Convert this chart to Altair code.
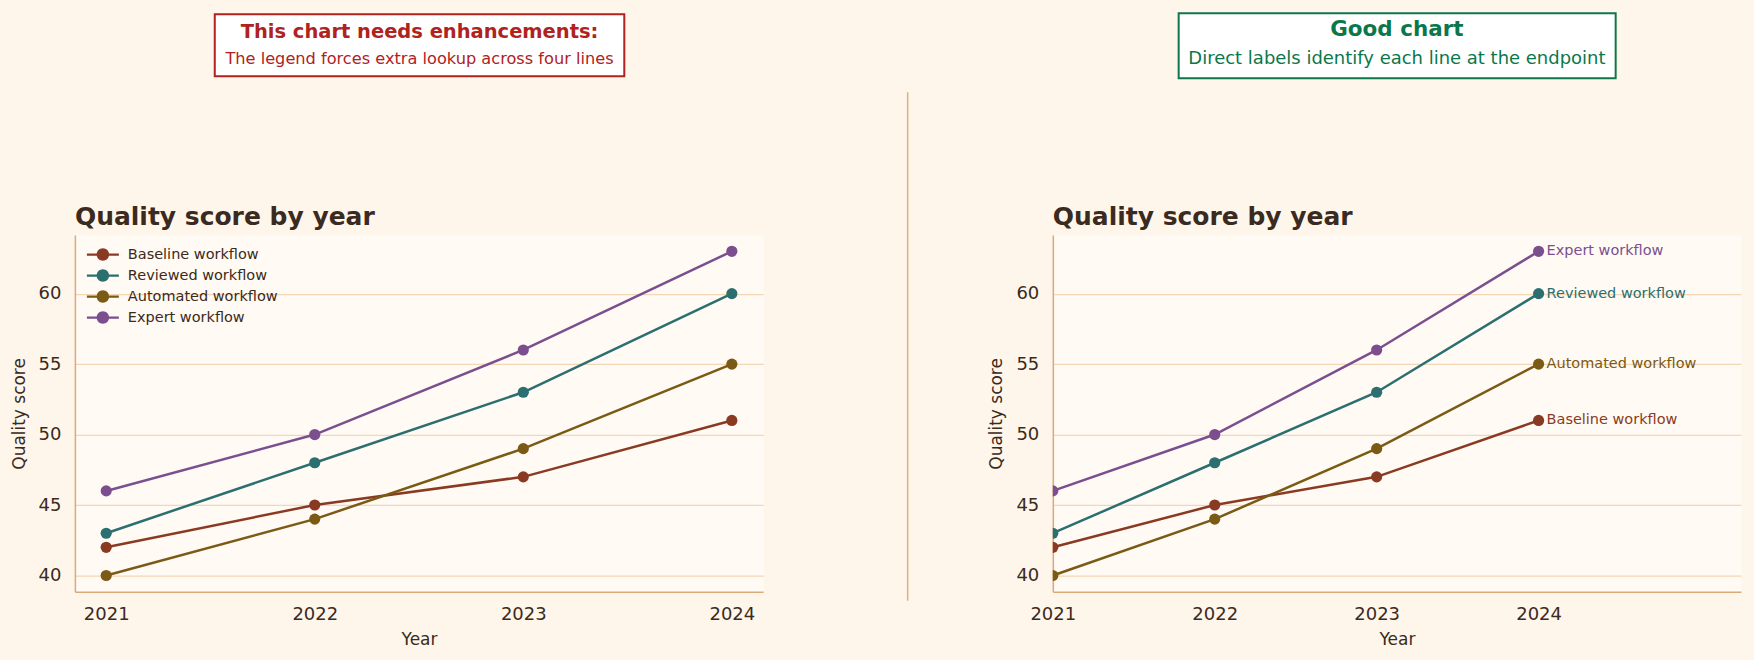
import altair as alt
import pandas as pd

# ---- data ---------------------------------------------------------------
years = [2021, 2022, 2023, 2024]
series_names = ["Baseline workflow", "Reviewed workflow", "Automated workflow", "Expert workflow"]
baseline = [42, 45, 47, 51]
reviewed = [43, 48, 53, 60]
automated = [40, 44, 49, 55]
expert = [46, 50, 56, 63]
series_colors = ["#8a3a22", "#2b6f70", "#7a5a14", "#7b4f8f"]
y_ticks = [40, 45, 50, 55, 60]

rows = []
for name, vals in zip(series_names, [baseline, reviewed, automated, expert]):
    for yr, v in zip(years, vals):
        rows.append({"year": yr, "score": v, "workflow": name})
df = pd.DataFrame(rows)

# ---- styling ------------------------------------------------------------
PLOT_W, PLOT_H = 689, 357
INK = "#3b2a20"
PAGE_BG = "#fff6eb"
BAD = "#b0221e"
GOOD = "#0b774a"
FONT = "DejaVu Sans"

# legend symbol: a short line with a dot in the middle
LEGEND_SYMBOL = (
    "M-2,-0.14L2,-0.14L2,0.14L-2,0.14Z "
    "M0,-0.78A0.78,0.78 0 1,1 0,0.78A0.78,0.78 0 1,1 0,-0.78Z"
)

one_row = alt.Data(values=[{}])


def header_box(x0, x1, y0, y1, color, title, subtitle, title_size, sub_size, cx, ty, sy):
    box = alt.Chart(one_row).mark_rect(
        fill="white", stroke=color, strokeWidth=2
    ).encode(x=alt.value(x0), x2=alt.value(x1), y=alt.value(y0), y2=alt.value(y1))
    t1 = alt.Chart(one_row).mark_text(
        text=title, font=FONT, fontSize=title_size, fontWeight="bold", color=color,
        align="center", baseline="middle",
    ).encode(x=alt.value(cx), y=alt.value(ty))
    t2 = alt.Chart(one_row).mark_text(
        text=subtitle, font=FONT, fontSize=sub_size, color=color,
        align="center", baseline="middle",
    ).encode(x=alt.value(cx), y=alt.value(sy))
    return [box, t1, t2]


def series_legend():
    return alt.Legend(
        title=None, orient="none", legendX=20, legendY=11.5,
        symbolType=LEGEND_SYMBOL, symbolSize=256, symbolStrokeWidth=0,
        labelOffset=17, labelFontSize=14.5, labelColor=INK, labelFont=FONT,
        rowPadding=6, padding=0,
    )


def panel(x_domain, show_legend, direct_labels, clip):
    base = alt.Chart(df)
    x = alt.X(
        "year:Q",
        scale=alt.Scale(domain=x_domain, nice=False, zero=False),
        axis=alt.Axis(values=years, format="d", title="Year", grid=False, labelFlush=False),
    )
    y = alt.Y(
        "score:Q",
        scale=alt.Scale(domain=[38.85, 64.15], nice=False, zero=False),
        axis=alt.Axis(values=y_ticks, title="Quality score", grid=True, labelFlush=False),
    )
    palette = alt.Scale(domain=series_names, range=series_colors)
    if show_legend:
        stroke = alt.Stroke("workflow:N", scale=palette, legend=series_legend())
        fill = alt.Fill("workflow:N", scale=palette, legend=series_legend())
    else:
        stroke = alt.Stroke("workflow:N", scale=palette, legend=None)
        fill = alt.Fill("workflow:N", scale=palette, legend=None)
    lines = base.mark_line(strokeWidth=2.5, clip=clip).encode(x=x, y=y, stroke=stroke)
    dots = base.mark_circle(size=125, opacity=1, clip=clip).encode(x=x, y=y, fill=fill)
    title = alt.Chart(one_row).mark_text(
        text="Quality score by year", font=FONT, fontSize=25, fontWeight="bold",
        color=INK, align="left", baseline="alphabetic",
    ).encode(x=alt.value(0), y=alt.value(-10))
    layers = [lines, dots, title]
    if direct_labels:
        labels = base.transform_filter(alt.datum.year == years[-1]).mark_text(
            align="left", baseline="middle", dx=8, fontSize=14.5, font=FONT
        ).encode(x=x, y=y, text="workflow:N", fill=fill)
        layers.append(labels)
    return layers


# invisible page frame that pins the canvas extents, plus the divider rule
frame = alt.Chart(one_row).mark_rect(fill="white", opacity=0).encode(
    x=alt.value(-74), x2=alt.value(1680), y=alt.value(-234), y2=alt.value(426)
)
divider = alt.Chart(one_row).mark_rule(color="#dfb07c", strokeWidth=1.5).encode(
    x=alt.value(833.7), y=alt.value(-143), y2=alt.value(366)
)

left = alt.layer(
    frame,
    divider,
    *header_box(140, 550, -221, -159, BAD, "This chart needs enhancements:",
                "The legend forces extra lookup across four lines", 19.5, 16.2, 345, -203, -176),
    *panel([2020.85, 2024.15], True, False, False),
).properties(width=PLOT_W, height=PLOT_H)

right = alt.layer(
    *header_box(126, 563.5, -222, -157, GOOD, "Good chart",
                "Direct labels identify each line at the endpoint", 21.5, 18, 344.5, -205, -176),
    *panel([2021, 2025.25], False, True, True),
).properties(width=PLOT_W, height=PLOT_H)

chart = (
    alt.hconcat(left, right, spacing=290, bounds="flush")
    .resolve_scale(x="independent", y="independent", fill="independent", stroke="independent")
    .properties(padding=0)
    .configure(font=FONT, background=PAGE_BG)
    .configure_view(fill="#fffaf3", stroke="transparent")
    .configure_axis(
        domainColor="#dcaa78", domainWidth=1.5, ticks=False, tickSize=0,
        labelFont=FONT, labelFontSize=18, labelColor=INK, labelPadding=14,
        titleFont=FONT, titleFontSize=17, titleColor=INK, titleFontWeight="normal",
        gridColor="#f3d6b6", gridWidth=1.2,
    )
    .configure_axisX(titlePadding=8)
    .configure_axisY(titlePadding=10)
)

chart.save("out.html", embed_options={"renderer": "svg", "actions": False})
